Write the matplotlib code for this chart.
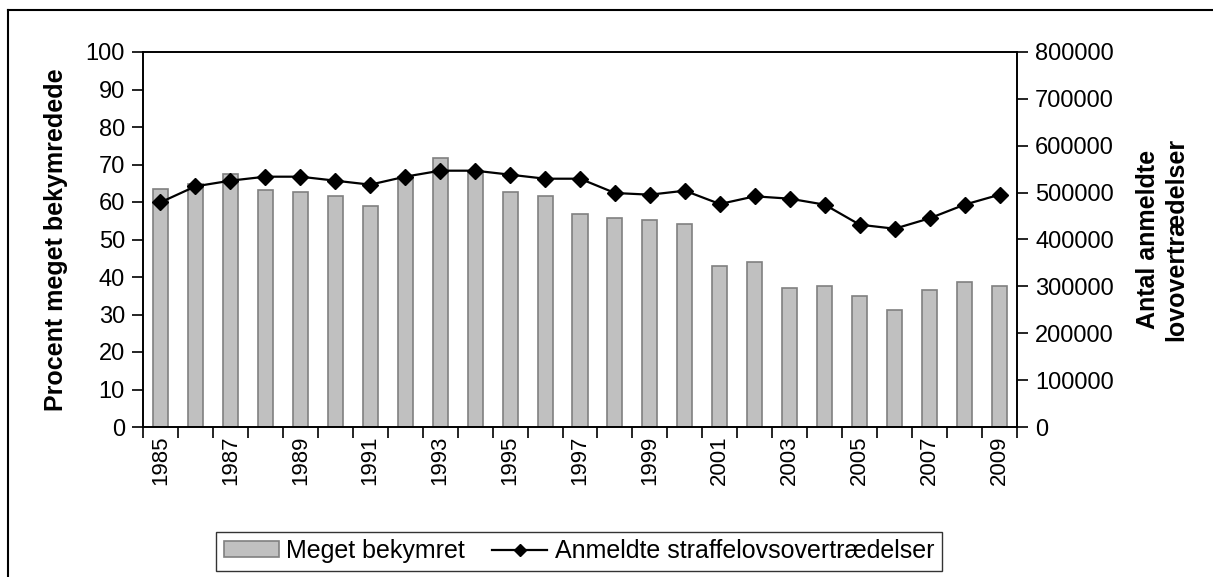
import numpy as np
import matplotlib
matplotlib.use('Agg')
import matplotlib.pyplot as plt
from matplotlib.patches import Patch
from matplotlib.lines import Line2D

plt.rcParams['font.family'] = ['Liberation Sans', 'DejaVu Sans']

years = list(range(1985, 2010))
bekymret = [63.6, 64.8, 67.5, 63.2, 62.6, 61.6, 58.9, 66.8, 71.8, 68.0,
            62.6, 61.6, 56.7, 55.7, 55.1, 54.1, 42.9, 44.0, 37.0, 37.6,
            34.9, 31.2, 36.5, 38.7, 37.6]
anmeldte = [479300, 513400, 525500, 534000, 534000, 525500, 517000, 534000,
            546800, 546800, 538300, 529700, 529700, 499200, 495600, 504100,
            475700, 492100, 487100, 474300, 431600, 423000, 445200, 474300,
            495600]

W, H = 1213, 577
fig = plt.figure(figsize=(W / 100, H / 100), dpi=100)

# outer frame (only top and left edges visible in the original)
fig.add_artist(Line2D([8 / W, 1], [1 - 10 / H, 1 - 10 / H], color='black', linewidth=1.5))
fig.add_artist(Line2D([8 / W, 8 / W], [0, 1 - 10 / H], color='black', linewidth=1.5))

ax = fig.add_axes([143 / W, 1 - 427 / H, (1017 - 143) / W, (427 - 52) / H])
x = np.arange(len(years))
ax.bar(x, bekymret, width=0.43, color='#C0C0C0', edgecolor='#808080', linewidth=1.2)
ax.set_xlim(-0.5, len(years) - 0.5)
ax.set_ylim(0, 100)
ax.set_yticks(range(0, 101, 10))
ax.set_ylabel('Procent meget bekymredede', fontsize=18, fontweight='bold', labelpad=13)

# ticks between categories, labels on every other year
ax.set_xticks(np.arange(-0.5, len(years), 1.0))
ax.set_xticklabels([])
ax.set_xticks(x[::2], minor=True)
ax.set_xticklabels([str(y) for y in years[::2]], minor=True, rotation=90, fontsize=16)
ax.tick_params(axis='x', which='major', length=8, width=1.2, direction='out')
ax.tick_params(axis='x', which='minor', length=0, pad=6)
ax.tick_params(axis='y', length=8, width=1.2, labelsize=17, pad=5)

ax2 = ax.twinx()
ax2.plot(x, anmeldte, color='black', linewidth=1.6, marker='D', markersize=8.5)
ax2.set_ylim(0, 800000)
ax2.set_yticks(range(0, 800001, 100000))
ax2.tick_params(axis='y', length=8, width=1.2, labelsize=17, pad=5)
ax2.set_ylabel('Antal anmeldte\nlovovertrædelser', fontsize=18, fontweight='bold', labelpad=16)

for a in (ax, ax2):
    for s in a.spines.values():
        s.set_linewidth(1.2)

handles = [Patch(facecolor='#C0C0C0', edgecolor='#808080', linewidth=1.2, label='Meget bekymret'),
           Line2D([], [], color='black', marker='D', markersize=6, linewidth=1.6,
                  label='Anmeldte straffelovsovertrædelser')]
leg = fig.legend(handles=handles, loc='center', bbox_to_anchor=(579 / W, 1 - 551 / H),
                 ncol=2, fontsize=18, frameon=True, fancybox=False, edgecolor='black',
                 handlelength=2.2, handleheight=0.6, columnspacing=1.1, handletextpad=0.3,
                 borderpad=0.3)
leg.get_frame().set_linewidth(1.0)

fig.savefig('out.png', dpi=100)
